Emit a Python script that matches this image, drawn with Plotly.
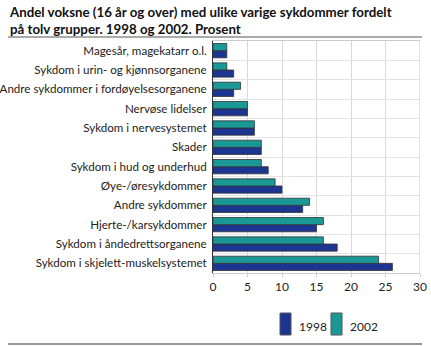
import plotly.graph_objects as go

categories = [
    "Sykdom i skjelett-muskelsystemet",
    "Sykdom i åndedrettsorganene",
    "Hjerte-/karsykdommer",
    "Andre sykdommer",
    "Øye-/øresykdommer",
    "Sykdom i hud og underhud",
    "Skader",
    "Sykdom i nervesystemet",
    "Nervøse lidelser",
    "Andre sykdommer i fordøyelsesorganene",
    "Sykdom i urin- og kjønnsorganene",
    "Magesår, magekatarr o.l.",
]
values_1998 = [26, 18, 15, 13, 10, 8, 7, 6, 5, 3, 3, 2]
values_2002 = [24, 16, 16, 14, 9, 7, 7, 6, 5, 4, 2, 2]
series_names = ["1998", "2002"]
colors = ["#1c3590", "#1a9896"]
x_ticks = [0, 5, 10, 15, 20, 25, 30]

W, H = 431, 346
ml, mr, mt, mb = 213, 11, 41, 73
font = "Lato"

fig = go.Figure()
for name, vals, col in zip(series_names, [values_1998, values_2002], colors):
    fig.add_trace(go.Bar(
        y=categories, x=vals, name=name, orientation="h",
        marker=dict(color=col, line=dict(color="#333333", width=0.8)),
        showlegend=False,
    ))

fig.update_layout(
    width=W, height=H,
    margin=dict(l=ml, r=mr, t=mt, b=mb),
    paper_bgcolor="white", plot_bgcolor="white",
    barmode="group", bargap=0.26, bargroupgap=0.0,
    font=dict(family=font, size=12, color="#222222"),
    xaxis=dict(range=[0, 30], tickvals=x_ticks, showgrid=True, gridcolor="#d9d9d9",
               gridwidth=1, zeroline=False, showline=True, linecolor="#cccccc",
               mirror=True, ticks="outside", ticklen=3, tickcolor="#cccccc",
               tickfont=dict(size=12, color="#222222"), automargin=False),
    yaxis=dict(showgrid=True, gridcolor="#e3e3e3", tickson="boundaries",
               showline=True, linecolor="#333333", linewidth=1, ticks="",
               ticklabelstandoff=3,
               tickfont=dict(size=11.6, color="#222222"),
               automargin=False),
)

pw = W - ml - mr
ph = H - mt - mb
def fx(p):
    return (p - ml) / pw
def fy(p):
    return 1 - (p - mt) / ph

fig.add_shape(type="line", xref="paper", yref="paper",
              x0=fx(8), x1=fx(422), y0=fy(37), y1=fy(37),
              line=dict(color="#aaaaaa", width=2))
fig.add_shape(type="line", xref="paper", yref="paper",
              x0=fx(8), x1=fx(422), y0=fy(344), y1=fy(344),
              line=dict(color="#999999", width=2))
fig.add_shape(type="line", xref="x", yref="paper", x0=30, x1=30, y0=0, y1=1,
              line=dict(color="#cccccc", width=1))

legend_x = [280, 331]
for lx, name, col in zip(legend_x, series_names, colors):
    fig.add_shape(type="rect", xref="paper", yref="paper",
                  x0=fx(lx), x1=fx(lx + 11), y0=fy(335), y1=fy(313),
                  fillcolor=col, line=dict(color="#555555", width=1))
    fig.add_annotation(xref="paper", yref="paper", x=fx(lx + 17), y=fy(326),
                       text=name, showarrow=False, xanchor="left", yanchor="middle",
                       font=dict(size=12, color="#222222"))

fig.add_annotation(xref="paper", yref="paper", x=fx(7), y=fy(2),
                   text="<b>Andel voksne (16 år og over) med ulike varige sykdommer fordelt<br>på tolv grupper. 1998 og 2002. Prosent</b>",
                   showarrow=False, xanchor="left", yanchor="top", align="left",
                   font=dict(size=13.3, color="#111111", family=font))

fig.write_html("out.html")
